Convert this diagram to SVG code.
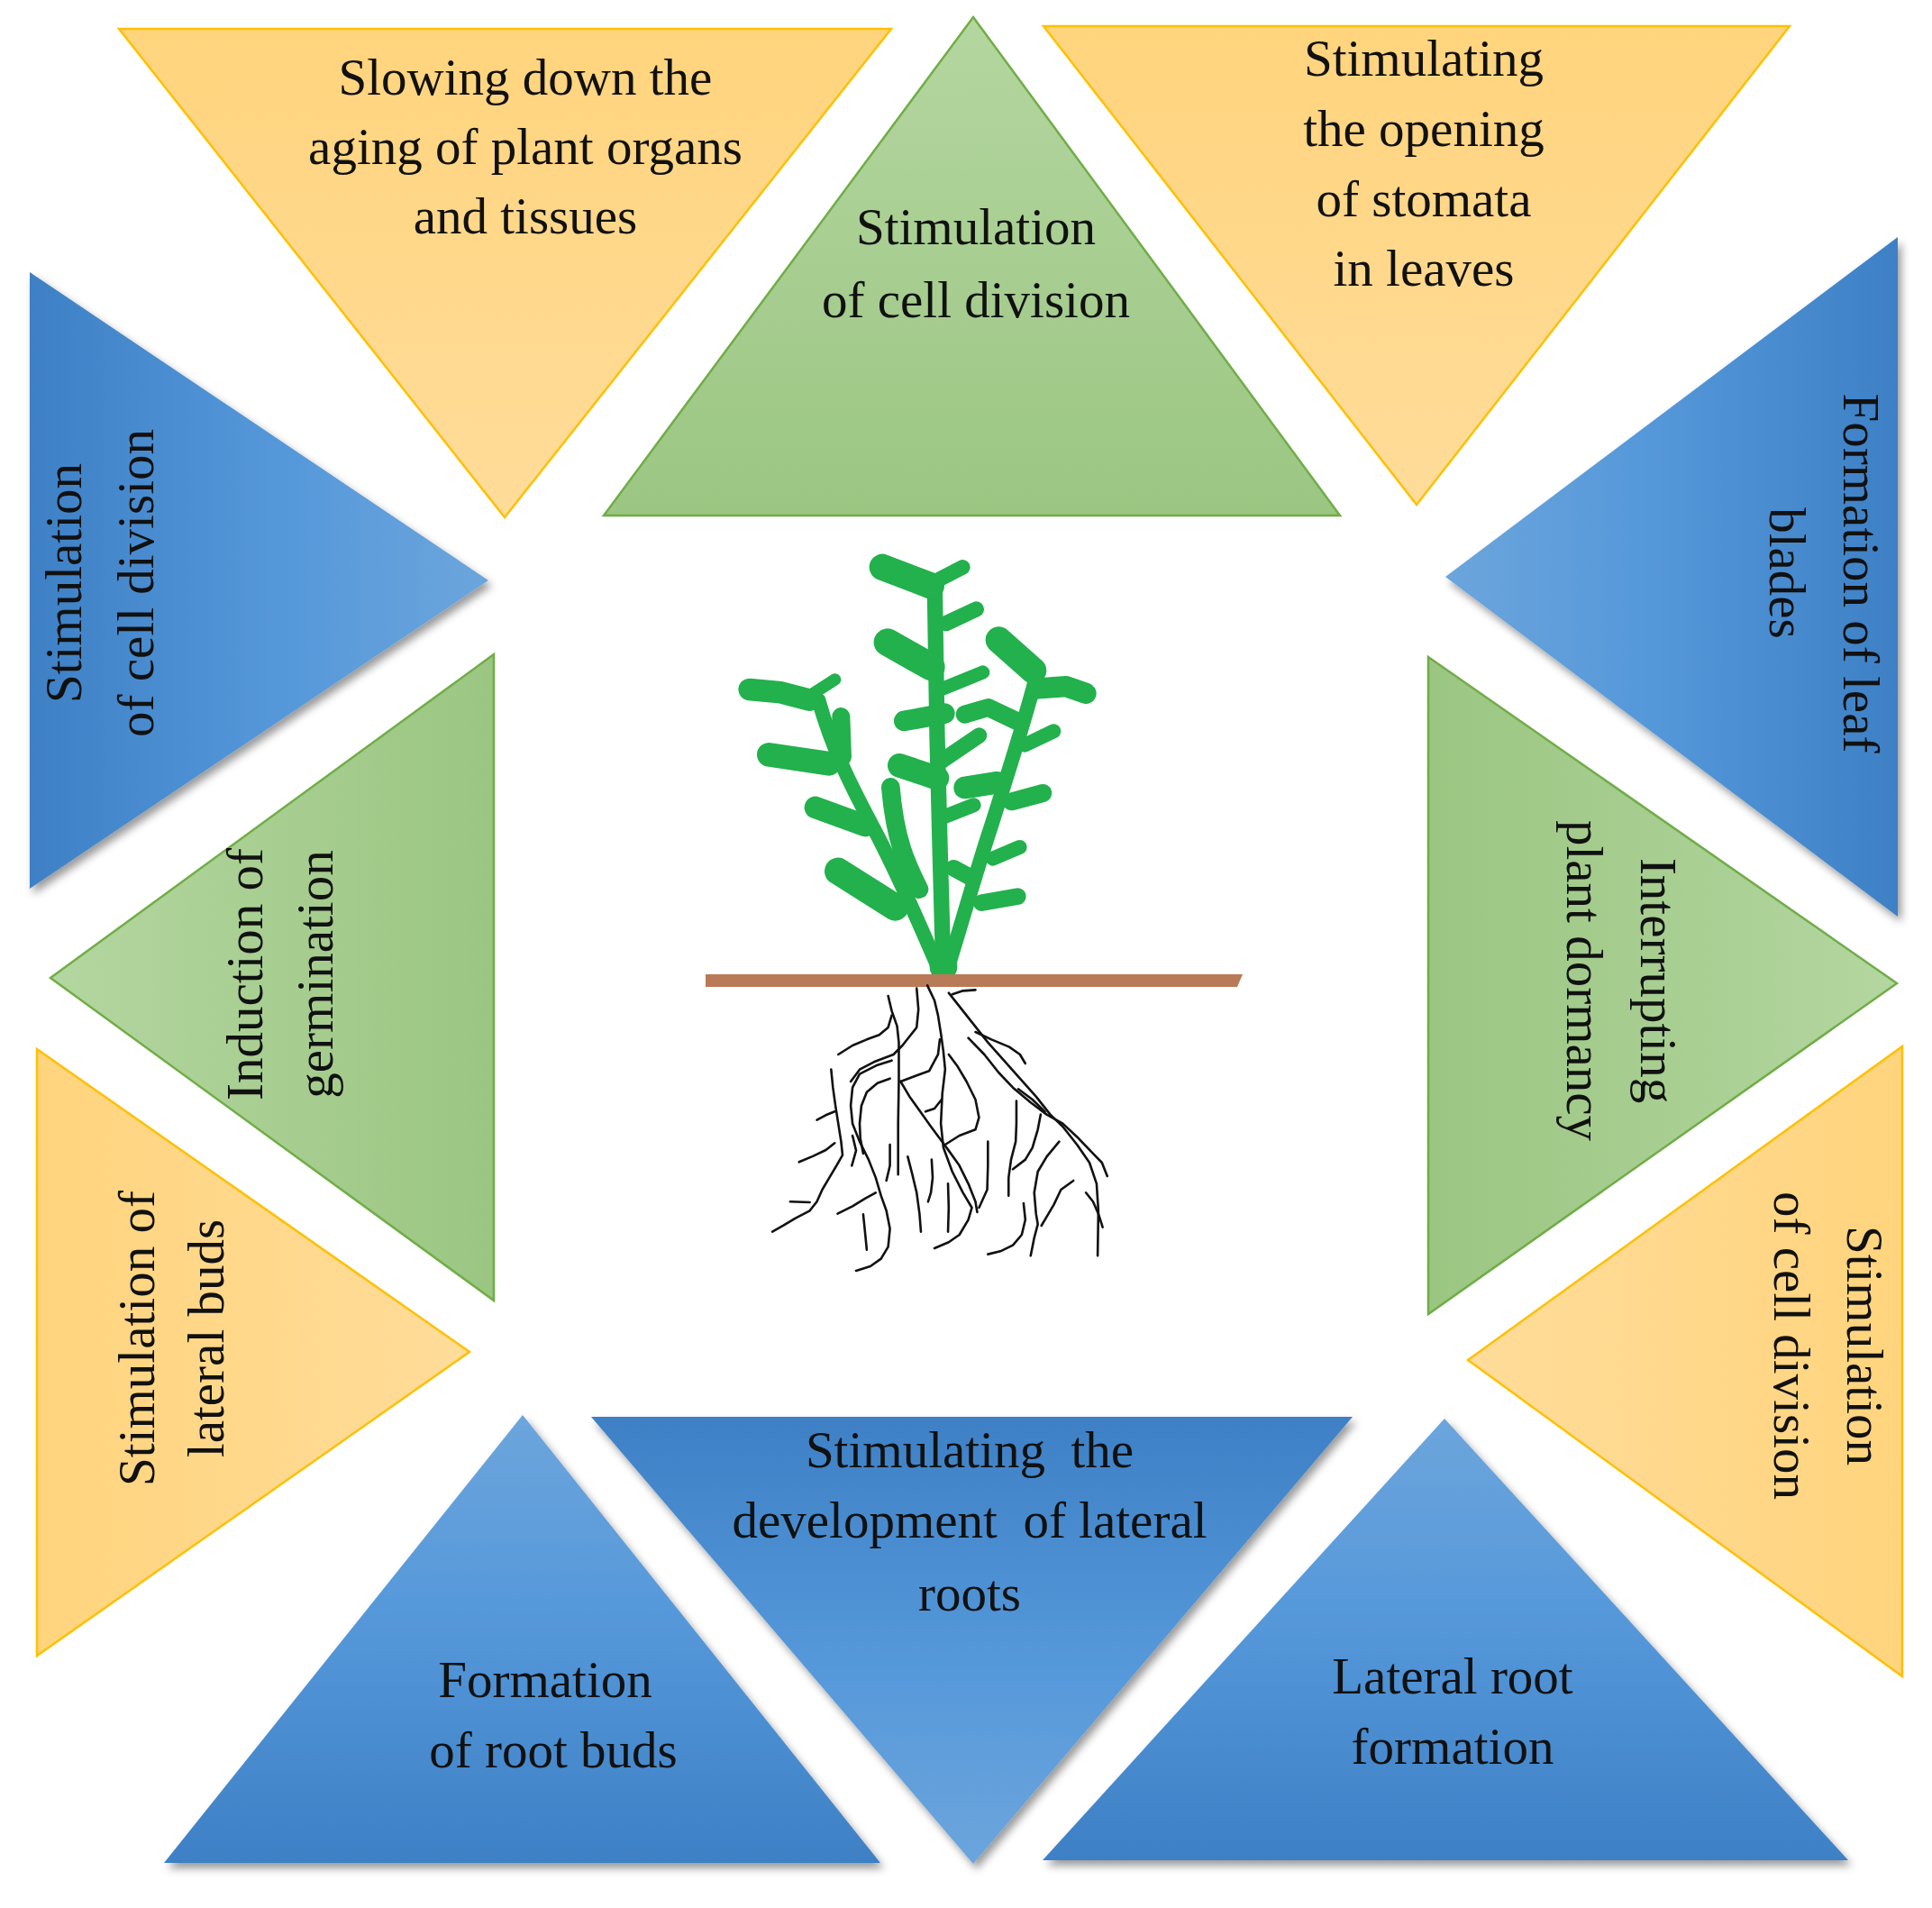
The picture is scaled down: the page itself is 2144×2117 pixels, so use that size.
<svg xmlns="http://www.w3.org/2000/svg" width="2144" height="2117" viewBox="0 0 2144 2117">
<defs>
<style>
.t{font-family:"Liberation Serif","Times New Roman",serif;font-size:57px;fill:#111;}
.c{text-anchor:middle;}
.yel{stroke:#ffc000;stroke-width:2.5;stroke-linejoin:miter;}
.grn{stroke:#70ad47;stroke-width:2.5;}
.blu{filter:url(#sh);}
.leaf{fill:none;stroke:#22b14c;stroke-linecap:round;stroke-linejoin:round;}
.root{fill:none;stroke:#111;stroke-width:2.6;stroke-linecap:round;stroke-linejoin:round;}
</style>
<filter id="sh" x="-15%" y="-15%" width="135%" height="135%">
<feDropShadow dx="4" dy="6" stdDeviation="5" flood-color="#000" flood-opacity="0.4"/>
</filter>
<linearGradient id="bLR" x1="0" y1="0" x2="1" y2="0"><stop offset="0" stop-color="#3e80c5"/><stop offset="0.55" stop-color="#5598da"/><stop offset="1" stop-color="#6ca5dc"/></linearGradient>
<linearGradient id="bRL" x1="1" y1="0" x2="0" y2="0"><stop offset="0" stop-color="#3e80c5"/><stop offset="0.55" stop-color="#5598da"/><stop offset="1" stop-color="#6ca5dc"/></linearGradient>
<linearGradient id="bBT" x1="0" y1="1" x2="0" y2="0"><stop offset="0" stop-color="#3e80c5"/><stop offset="0.55" stop-color="#5598da"/><stop offset="1" stop-color="#6ca5dc"/></linearGradient>
<linearGradient id="bTB" x1="0" y1="0" x2="0" y2="1"><stop offset="0" stop-color="#3e80c5"/><stop offset="0.55" stop-color="#5598da"/><stop offset="1" stop-color="#6ca5dc"/></linearGradient>
<linearGradient id="gBT" x1="0" y1="1" x2="0" y2="0"><stop offset="0" stop-color="#9bc682"/><stop offset="1" stop-color="#b4d6a0"/></linearGradient>
<linearGradient id="gRL" x1="1" y1="0" x2="0" y2="0"><stop offset="0" stop-color="#9bc682"/><stop offset="1" stop-color="#b4d6a0"/></linearGradient>
<linearGradient id="gLR" x1="0" y1="0" x2="1" y2="0"><stop offset="0" stop-color="#9bc682"/><stop offset="1" stop-color="#b4d6a0"/></linearGradient>
<linearGradient id="yTB" x1="0" y1="0" x2="0" y2="1"><stop offset="0" stop-color="#ffd47d"/><stop offset="1" stop-color="#ffdc9a"/></linearGradient>
<linearGradient id="yLR" x1="0" y1="0" x2="1" y2="0"><stop offset="0" stop-color="#ffd47d"/><stop offset="1" stop-color="#ffdc9a"/></linearGradient>
<linearGradient id="yRL" x1="1" y1="0" x2="0" y2="0"><stop offset="0" stop-color="#ffd47d"/><stop offset="1" stop-color="#ffdc9a"/></linearGradient>
</defs>
<rect width="2144" height="2117" fill="#fff"/>

<g id="node-slowing-aging">
<polygon class="yel" fill="url(#yTB)" points="132,32 989,32 560,574"/>
<text class="t c" x="583" y="105">Slowing down the</text>
<text class="t c" x="583" y="182">aging of plant organs</text>
<text class="t c" x="583" y="259">and tissues</text>
</g>

<g id="node-cell-division-top">
<polygon class="grn" fill="url(#gBT)" points="1080,19 1487,572 670,572"/>
<text class="t c" x="1083" y="271">Stimulation</text>
<text class="t c" x="1083" y="352">of cell division</text>
</g>

<g id="node-stomata">
<polygon class="yel" fill="url(#yTB)" points="1158,29 1986,29 1572,560"/>
<text class="t c" x="1580" y="84">Stimulating</text>
<text class="t c" x="1580" y="162">the opening</text>
<text class="t c" x="1580" y="240">of stomata</text>
<text class="t c" x="1580" y="317">in leaves</text>
</g>

<g id="node-cell-division-left">
<polygon class="blu" fill="url(#bLR)" points="33,302 542,644 33,986"/>
<g transform="translate(90,647) rotate(-90)">
<text class="t c" x="0" y="0">Stimulation</text>
<text class="t c" x="0" y="80">of cell division</text>
</g>
</g>

<g id="node-leaf-blades">
<polygon class="blu" fill="url(#bRL)" points="2106,263 2106,1017 1604,640"/>
<g transform="translate(2046,636) rotate(90)">
<text class="t c" x="0" y="0">Formation of leaf</text>
<text class="t c" x="0" y="82">blades</text>
</g>
</g>

<g id="node-germination">
<polygon class="grn" fill="url(#gRL)" points="548,726 548,1443 56,1085"/>
<g transform="translate(291,1081) rotate(-90)">
<text class="t c" x="0" y="0">Induction of</text>
<text class="t c" x="0" y="78">germination</text>
</g>
</g>

<g id="node-dormancy">
<polygon class="grn" fill="url(#gLR)" points="1585,729 2105,1091 1585,1458"/>
<g transform="translate(1821,1088) rotate(90)">
<text class="t c" x="0" y="0">Interrupting</text>
<text class="t c" x="0" y="82">plant dormancy</text>
</g>
</g>

<g id="node-lateral-buds">
<polygon class="yel" fill="url(#yLR)" points="41,1164 521,1500 41,1837"/>
<g transform="translate(171,1485) rotate(-90)">
<text class="t c" x="0" y="0">Stimulation of</text>
<text class="t c" x="0" y="77">lateral buds</text>
</g>
</g>

<g id="node-cell-division-right">
<polygon class="yel" fill="url(#yRL)" points="2111,1161 2111,1860 1629,1509"/>
<g transform="translate(2050,1493) rotate(90)">
<text class="t c" x="0" y="0">Stimulation</text>
<text class="t c" x="0" y="81">of cell division</text>
</g>
</g>

<g id="node-root-buds">
<polygon class="blu" fill="url(#bBT)" points="580,1570 977,2067 182,2067"/>
<text class="t c" x="605" y="1883">Formation</text>
<text class="t c" x="614" y="1961">of root buds</text>
</g>

<g id="node-lateral-roots-development">
<polygon class="blu" fill="url(#bTB)" points="656,1572 1501,1572 1080,2068"/>
<text class="t c" x="1076" y="1628" xml:space="preserve">Stimulating  the</text>
<text class="t c" x="1076" y="1706" xml:space="preserve">development  of lateral</text>
<text class="t c" x="1076" y="1787">roots</text>
</g>

<g id="node-lateral-root-formation">
<polygon class="blu" fill="url(#bBT)" points="1603,1574 2051,2064 1157,2064"/>
<text class="t c" x="1612" y="1879">Lateral root</text>
<text class="t c" x="1612" y="1957">formation</text>
</g>

<g id="plant">
<g id="shoot" transform="translate(820,600) scale(0.3333)">
<path class="leaf" stroke-width="52" d="M681,1445 C675,1200 665,900 660,650 C657,450 655,300 652,150"/>
<path class="leaf" stroke-width="48" d="M672,1440 C620,1320 540,1130 450,960 C370,810 310,690 265,530"/>
<path class="leaf" stroke-width="48" d="M690,1440 C740,1280 790,1100 840,950 C890,790 940,640 985,470"/>
<path class="leaf" stroke-width="62" d="M600,1160 C560,1080 520,1000 505,820"/>
<ellipse cx="681" cy="1418" rx="46" ry="48" fill="#22b14c"/>
<path class="leaf" stroke-width="88" d="M478,88 L640,150"/>
<path class="leaf" stroke-width="50" d="M668,128 L745,88"/>
<path class="leaf" stroke-width="52" d="M690,275 L790,228"/>
<path class="leaf" stroke-width="92" d="M495,338 L640,420"/>
<path class="leaf" stroke-width="46" d="M672,495 L812,438"/>
<path class="leaf" stroke-width="68" d="M550,600 L685,575"/>
<path class="leaf" stroke-width="52" d="M672,735 L800,648"/>
<path class="leaf" stroke-width="80" d="M535,748 L660,790"/>
<path class="leaf" stroke-width="48" d="M685,918 L782,880"/>
<path class="leaf" stroke-width="74" d="M35,495 L140,505 L235,530"/>
<path class="leaf" stroke-width="40" d="M245,510 L320,462"/>
<path class="leaf" stroke-width="80" d="M100,712 L300,742"/>
<path class="leaf" stroke-width="60" d="M340,585 L345,720"/>
<path class="leaf" stroke-width="74" d="M255,888 L420,948"/>
<path class="leaf" stroke-width="90" d="M330,1100 L520,1220"/>
<path class="leaf" stroke-width="88" d="M865,330 L980,432"/>
<path class="leaf" stroke-width="70" d="M995,492 L1090,485 L1155,508"/>
<path class="leaf" stroke-width="60" d="M752,578 L830,555 L935,605"/>
<path class="leaf" stroke-width="48" d="M952,680 L1048,634"/>
<path class="leaf" stroke-width="74" d="M752,822 L860,805"/>
<path class="leaf" stroke-width="60" d="M908,868 L1012,840"/>
<path class="leaf" stroke-width="48" d="M845,1058 L935,1020"/>
<path class="leaf" stroke-width="56" d="M715,1090 L780,1125"/>
<path class="leaf" stroke-width="56" d="M808,1205 L928,1184"/>
</g>
<polygon id="ground" fill="#b97a57" points="783,1081 1379,1081 1373,1095 783,1095"/>
<g id="roots" transform="translate(780,1060) scale(0.3954,0.3333)">
<path class="root" vector-effect="non-scaling-stroke" d="M520,135 L530,185 L545,235 L550,290 L550,420 L548,560 L548,730"/>
<path class="root" vector-effect="non-scaling-stroke" d="M600,110 L605,180 L600,240 L580,270 L560,300 L535,330 L480,355 L440,380 L415,420"/>
<path class="root" vector-effect="non-scaling-stroke" d="M630,100 L650,150 L660,200 L668,260 L675,320 L680,380 L672,460 L668,560 L675,640 L700,720 L730,790 L755,840 L745,880 L720,930 L690,955 L650,975"/>
<path class="root" vector-effect="non-scaling-stroke" d="M690,125 L720,170 L760,230 L800,290 L845,350 L890,410 L935,470 L975,530 L1010,570 L1050,630 L1085,690 L1105,760 L1110,850 L1108,1000"/>
<path class="root" vector-effect="non-scaling-stroke" d="M700,130 L730,118 L765,115"/>
<path class="root" vector-effect="non-scaling-stroke" d="M745,275 L790,330 L830,390 L870,440 L920,490 L965,530 L1010,560 L1055,610 L1095,660 L1120,690 L1135,735"/>
<path class="root" vector-effect="non-scaling-stroke" d="M765,255 L810,280 L860,305 L890,330 L905,360"/>
<path class="root" vector-effect="non-scaling-stroke" d="M555,420 L580,470 L610,520 L640,570 L665,610 L690,650 L720,700 L745,760 L765,820 L770,855"/>
<path class="root" vector-effect="non-scaling-stroke" d="M555,420 L600,400 L635,385 L660,330 L665,280"/>
<path class="root" vector-effect="non-scaling-stroke" d="M525,410 L490,425 L460,455 L445,500 L440,560 L442,610 L450,660"/>
<path class="root" vector-effect="non-scaling-stroke" d="M530,350 L490,365 L440,395 L420,440 L415,500 L420,560 L440,620 L465,680 L485,740 L500,800 L515,850 L525,910 L520,970 L500,1010 L470,1035 L430,1050"/>
<path class="root" vector-effect="non-scaling-stroke" d="M380,330 L420,300 L460,280 L495,265 L520,240 L530,200"/>
<path class="root" vector-effect="non-scaling-stroke" d="M360,380 L365,440 L372,500 L380,560 L388,620 L392,665 L375,700 L355,740 L335,780 L320,820 L300,850 L260,875 L225,900 L195,920"/>
<path class="root" vector-effect="non-scaling-stroke" d="M320,548 L345,532 L370,520"/>
<path class="root" vector-effect="non-scaling-stroke" d="M270,688 L310,668 L345,648 L370,625"/>
<path class="root" vector-effect="non-scaling-stroke" d="M245,820 L300,822"/>
<path class="root" vector-effect="non-scaling-stroke" d="M378,860 L420,835 L455,810 L485,790"/>
<path class="root" vector-effect="non-scaling-stroke" d="M450,862 L455,920 L460,980"/>
<path class="root" vector-effect="non-scaling-stroke" d="M525,630 L525,700 L515,750"/>
<path class="root" vector-effect="non-scaling-stroke" d="M575,670 L588,730 L600,790 L608,860 L612,920"/>
<path class="root" vector-effect="non-scaling-stroke" d="M642,680 L645,740 L640,790 L632,820"/>
<path class="root" vector-effect="non-scaling-stroke" d="M688,760 L690,840 L688,920"/>
<path class="root" vector-effect="non-scaling-stroke" d="M680,630 L720,600 L765,580 L775,540 L765,480 L740,420 L715,370 L690,330"/>
<path class="root" vector-effect="non-scaling-stroke" d="M800,620 L800,700 L798,780 L775,840"/>
<path class="root" vector-effect="non-scaling-stroke" d="M880,485 L880,560 L878,620 L865,680 L858,740 L858,800"/>
<path class="root" vector-effect="non-scaling-stroke" d="M870,712 L905,680 L925,640 L940,580 L948,530"/>
<path class="root" vector-effect="non-scaling-stroke" d="M1000,620 L965,670 L940,720 L930,790 L935,860 L940,895 L930,940 L920,1000"/>
<path class="root" vector-effect="non-scaling-stroke" d="M1040,750 L1005,780 L985,830 L960,880 L950,900"/>
<path class="root" vector-effect="non-scaling-stroke" d="M900,825 L905,880 L895,930 L870,965 L835,985 L800,995"/>
<path class="root" vector-effect="non-scaling-stroke" d="M1075,790 L1095,820 L1110,860 L1122,905"/>
<path class="root" vector-effect="non-scaling-stroke" d="M885,445 L925,480 L960,520"/>
<path class="root" vector-effect="non-scaling-stroke" d="M625,520 L650,510 L670,480"/>
<path class="root" vector-effect="non-scaling-stroke" d="M420,600 L430,650 L418,700"/>
</g>
</g>
</svg>
